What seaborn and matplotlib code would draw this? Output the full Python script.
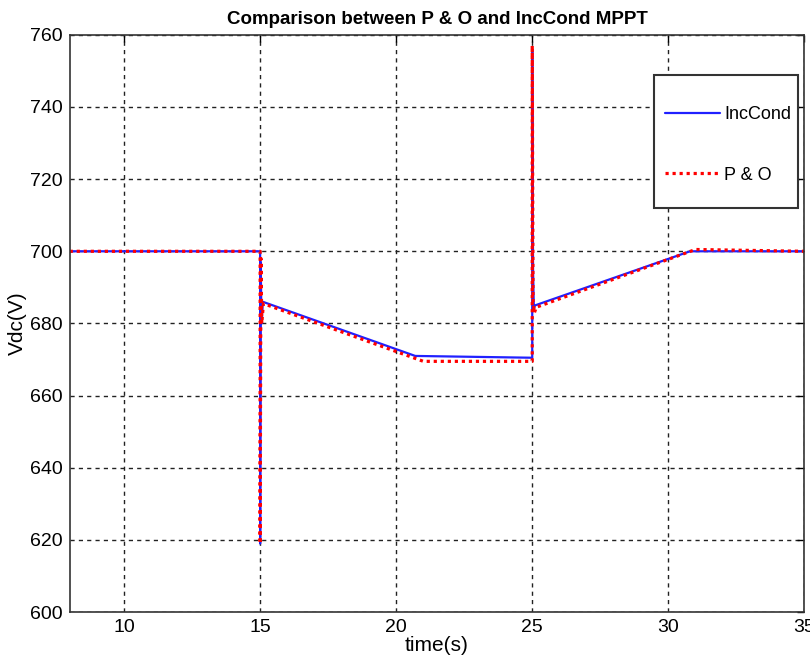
import numpy as np
import pandas as pd
import seaborn as sns
import matplotlib
matplotlib.use("Agg")
import matplotlib.pyplot as plt
from matplotlib.patches import Rectangle

# Data (breakpoints)
t_inc = [8, 15.0, 15.0, 15.02, 15.05, 15.1, 20.7, 25.0, 25.0, 25.03, 25.06, 25.1, 30.8, 35]
v_inc = [700, 700, 619, 697, 680, 686, 671, 670.5, 756, 695, 684, 685, 700, 700]

t_po = [8, 15.0, 15.0, 15.03, 15.06, 15.12, 21.0, 25.0, 25.0, 25.03, 25.08, 25.15, 31.0, 35]
v_po = [700, 700, 619, 698, 680, 685.5, 669.5, 669.5, 757, 686, 683, 684.5, 700.5, 700]

x_ticks = [10, 15, 20, 25, 30, 35]
y_ticks = [600, 620, 640, 660, 680, 700, 720, 740, 760]

sns.set_theme(style="white")
plt.rcParams['font.family'] = ['Liberation Sans', 'DejaVu Sans']
plt.rcParams['text.color'] = 'black'
plt.rcParams['axes.labelcolor'] = 'black'

fig = plt.figure(figsize=(8.1, 6.69), dpi=100)
ax = fig.add_axes([0.086, 0.085, 0.907, 0.863])

df_inc = pd.DataFrame({"t": t_inc, "v": v_inc})
df_po = pd.DataFrame({"t": t_po, "v": v_po})

sns.lineplot(data=df_inc, x="t", y="v", ax=ax, color="#2020ff", lw=1.6,
             label="IncCond", estimator=None, sort=False)
sns.lineplot(data=df_po, x="t", y="v", ax=ax, color="#ff0000", lw=2.3,
             linestyle=(0, (1, 1.2)), label="P & O", estimator=None, sort=False)

ax.set_xlim(8, 35)
ax.set_ylim(600, 760)
ax.set_xticks(x_ticks)
ax.set_yticks(y_ticks)
ax.tick_params(direction="in", length=5, top=True, right=True, labelsize=14,
               colors="black", width=1, pad=5)
ax.grid(True, color="#222222", linestyle=(0, (3, 3)), lw=1)
for s in ax.spines.values():
    s.set_color("#333333")
    s.set_linewidth(1.2)

ax.set_xlabel("time(s)", fontsize=15, labelpad=0)
ax.set_ylabel("Vdc(V)", fontsize=15, labelpad=2)
ax.set_title("Comparison between P & O and IncCond MPPT", fontsize=13.5,
             fontweight="bold", pad=8)

# Legend frame drawn separately to match the tall, narrow box
ax.add_patch(Rectangle((0.796, 0.700), 0.196, 0.231, transform=ax.transAxes,
                       facecolor="white", edgecolor="#333333", lw=1.5, zorder=5))
leg = ax.legend(loc="upper left", bbox_to_anchor=(0.811, 0.876), fontsize=13,
                frameon=False, labelspacing=2.4, handlelength=3.0,
                borderpad=0, handletextpad=0.25, borderaxespad=0)
leg.set_zorder(6)

fig.savefig("out.png", dpi=100)
